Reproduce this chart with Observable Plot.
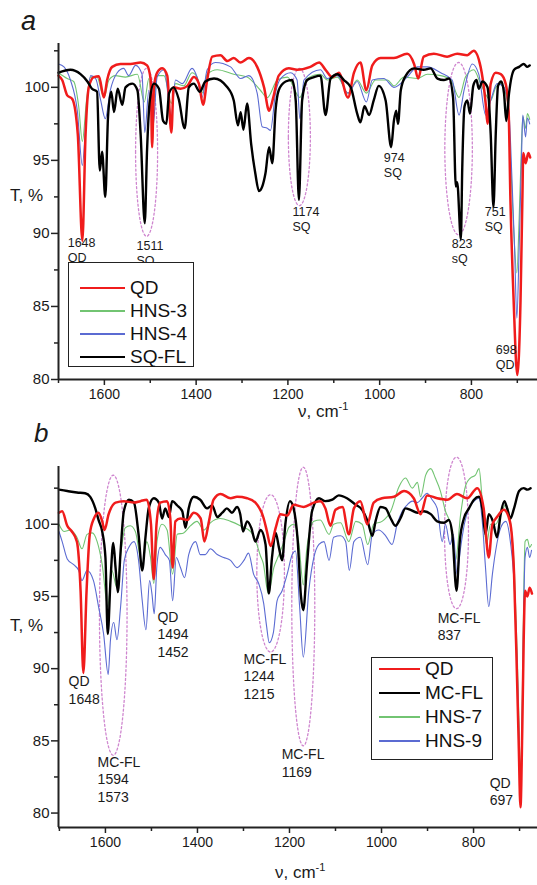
<!DOCTYPE html>
<html><head><meta charset="utf-8">
<script src="https://cdn.jsdelivr.net/npm/d3@7"></script>
<script src="https://cdn.jsdelivr.net/npm/@observablehq/plot@0.6"></script>
<style>
body{margin:0;background:#fff;font-family:"Liberation Sans",Arial,sans-serif;}
#wrap{position:relative;width:537px;height:885px;overflow:hidden;}
.abs{position:absolute;white-space:nowrap;color:#1a1a1a;}
.leg{position:absolute;border:1.5px solid #222;background:#fff;box-sizing:border-box;}
.row{position:absolute;display:flex;align-items:center;font-size:19px;color:#111;}
.sw{display:inline-block;margin-right:5px;}
.sup{position:relative;top:-7px;font-size:11px;}
</style></head>
<body><div id="wrap"></div>
<script>
// ---------- Panel a data: [wavenumber cm-1, T %] ----------
const aQD = [[1700,100.8],[1692,100.5],[1681,99.45],[1670,99.2],[1658,96.8],[1648,89.5],[1641,96.8],[1634,100],[1623,100.7],[1612,100.75],[1601,99.3],[1594,100.5],[1583,101.4],[1565,101.6],[1543,101.6],[1521,101.7],[1507,101.5],[1499,100.5],[1496,95.9],[1492,100],[1485,101],[1474,101.3],[1463,100.8],[1454,96.9],[1449,100],[1434,99.9],[1419,100.1],[1405,100.7],[1394,100.25],[1385,98.8],[1376,100.5],[1365,102.1],[1347,102.2],[1332,101.8],[1318,102],[1303,101.7],[1285,102],[1267,101.4],[1252,100],[1241,98.4],[1232,99.3],[1220,100.8],[1198,101.3],[1180,101.2],[1151,101.4],[1132,101.7],[1118,101.2],[1103,100.7],[1089,101],[1069,99.3],[1056,101],[1042,101.7],[1029,99.8],[1016,101.5],[998,102],[969,102],[940,102.3],[925,101.6],[916,100.6],[904,102.1],[882,102.3],[853,102.1],[831,102.3],[809,102.2],[795,102.5],[780,101.4],[769,98.9],[765,97.5],[758,100.25],[747,101],[736,100.9],[725,100.2],[719,98.4],[715,92.3],[708,85.4],[700,80.3],[693,85.4],[689,92.3],[687,95.5],[682,94.8],[676,95.5],[672,95.2]];
const aHNS3 = [[1700,101],[1681,100.6],[1667,100.4],[1656,98.7],[1648,96.3],[1639,99.1],[1630,100.7],[1616,100.7],[1601,99.3],[1590,100.5],[1576,100.8],[1554,100.7],[1528,100.9],[1513,99],[1503,100.6],[1495,98.5],[1485,100.8],[1470,100.8],[1454,98.9],[1445,100.25],[1427,100.1],[1409,101],[1398,100.7],[1387,99.6],[1376,100.9],[1354,101.2],[1318,100.9],[1289,100.7],[1260,99.8],[1245,99.3],[1223,100.5],[1201,100.7],[1174,99.3],[1158,100.6],[1129,100.9],[1114,100.5],[1092,100.7],[1069,99.6],[1049,100.5],[1029,99.6],[1009,100.5],[983,100.5],[969,100.1],[947,100.7],[918,100.6],[896,100.9],[867,100.8],[845,100.5],[827,99.3],[813,100.7],[795,101.2],[780,100.25],[758,99.1],[747,100],[736,100.25],[722,99.1],[716,96],[709,91],[701,87.3],[696,91],[691,96],[688,98],[682,97.2],[678,98.2],[673,97.8]];
const aHNS4 = [[1700,101.6],[1688,101.4],[1674,100.5],[1659,98.4],[1648,94.65],[1639,98.4],[1630,100.8],[1619,100.6],[1608,99.1],[1598,97.85],[1587,99.8],[1572,101],[1558,101.3],[1547,100.8],[1532,101.5],[1518,100.9],[1512,96.9],[1503,99.8],[1494,97.3],[1485,100.7],[1470,101.2],[1454,98.1],[1445,100.5],[1430,100.25],[1409,101.3],[1398,100.7],[1387,99.3],[1376,101.2],[1358,101.7],[1325,101.4],[1303,100.6],[1285,100.8],[1267,99.6],[1256,97.3],[1245,97.2],[1238,97.05],[1227,99.6],[1216,100.6],[1194,101],[1180,100.5],[1174,97.85],[1165,100.5],[1129,101.2],[1114,100.6],[1092,100.8],[1069,99.6],[1049,100.4],[1029,99],[1016,100.5],[991,100.6],[969,100],[940,100.7],[918,101.4],[896,101.4],[867,101],[842,100.5],[827,98.1],[816,99.8],[798,101.6],[784,100.9],[769,98.1],[758,99.1],[744,100.25],[729,100],[718,98.2],[712,94],[706,89],[701,84.2],[696,89],[691,95],[688,98.1],[682,96.6],[678,97.9],[673,97.5]];
const aSQFL = [[1700,101],[1674,101.2],[1652,100.9],[1637,100.4],[1627,99.9],[1616,99.7],[1610,94.3],[1605,95.6],[1598,92.5],[1592,98],[1585,99.7],[1579,98.3],[1571,99.9],[1561,98.8],[1554,100],[1539,100.25],[1528,99.8],[1521,96.8],[1512,90.7],[1507,95.7],[1501,99.1],[1492,100.25],[1481,99.9],[1472,97.7],[1465,97.5],[1459,99.6],[1449,100],[1438,99.2],[1425,97.2],[1416,100],[1405,100.25],[1392,99.7],[1380,100.4],[1361,100.6],[1332,100],[1318,99.1],[1309,97.4],[1303,98.3],[1297,97.1],[1289,98.9],[1280,96.1],[1271,94.1],[1263,92.9],[1256,93.2],[1249,94.1],[1241,95.9],[1234,94.8],[1227,98.4],[1220,99.8],[1205,100.4],[1191,100.5],[1183,99.1],[1176,92.3],[1169,99.1],[1158,100.5],[1143,100.7],[1129,100.8],[1118,98.1],[1107,100.6],[1092,100.9],[1078,100.5],[1063,100],[1049,98.2],[1042,97.6],[1033,98.7],[1023,98.1],[1013,99.1],[1002,100.1],[987,99.1],[975,95.9],[969,97.7],[964,98.4],[960,97.5],[954,99.8],[943,100.8],[925,101.3],[904,101.2],[889,101.3],[874,100.6],[860,100.5],[849,100.6],[840,99.3],[834,93.2],[831,93.5],[823,89.6],[820,94.5],[815,98.7],[809,99.1],[803,98.2],[796,100.1],[789,100.5],[784,99.9],[776,100.4],[765,100],[758,96.8],[752,91.8],[747,96.8],[742,100.1],[735,100.4],[729,99.6],[724,97.7],[718,99.6],[707,101.2],[696,101.4],[686,101.6],[678,101.4],[673,101.5]];

// ---------- Panel b data ----------
const bQD = [[1701,100.8],[1694,100.9],[1683,99.9],[1673,99.5],[1662,98.8],[1654,95.4],[1648,89.7],[1641,95.4],[1634,99.3],[1625,100.4],[1615,100.8],[1607,100.2],[1602,99.6],[1593,100.7],[1578,101.5],[1560,101.6],[1538,101.5],[1524,101.6],[1510,101.7],[1501,100],[1495,96.2],[1489,100],[1481,101.5],[1466,101.6],[1459,100.4],[1454,97],[1448,100.2],[1437,100.4],[1422,100.3],[1408,100.8],[1393,100.4],[1385,98.8],[1375,100.2],[1365,101.7],[1350,102.1],[1328,101.8],[1314,101.9],[1292,101.8],[1274,101.5],[1256,100.4],[1249,99.5],[1241,98.5],[1230,99.75],[1220,100.7],[1205,100.6],[1191,101.35],[1169,101.2],[1147,101.5],[1133,101.6],[1122,101.1],[1111,99.9],[1100,101],[1085,101.2],[1071,99.3],[1060,101.1],[1046,101.6],[1031,100],[1017,101.5],[999,101.8],[973,101.9],[951,102.3],[930,101.8],[915,100.7],[901,102],[879,101.8],[857,101.7],[836,102.1],[814,101.8],[792,102.5],[778,101.1],[767,97.7],[759,100],[749,100.5],[734,101],[721,100.2],[712,96.6],[706,90],[702,85],[698,80.4],[694,86],[691,92],[688,95.4],[683,95],[678,95.6],[673,95.2]];
const bMCFL = [[1701,102.4],[1683,102.3],[1662,102.2],[1644,102.15],[1633,101.9],[1622,101.1],[1615,100.3],[1607,99.5],[1600,97.7],[1595,92.4],[1589,96.1],[1583,98.7],[1578,97],[1573,95.3],[1567,98.15],[1560,100.9],[1549,101.7],[1538,101.5],[1528,99.3],[1520,96.8],[1513,99.1],[1506,101.1],[1495,101.8],[1484,101.5],[1477,100.4],[1470,101.1],[1462,100.5],[1455,101.6],[1444,101.3],[1433,100.9],[1426,99.75],[1419,101.1],[1408,101.9],[1394,101.7],[1379,101.1],[1368,101.3],[1357,100.5],[1346,100.8],[1336,101.1],[1325,100.8],[1314,101.2],[1307,100.7],[1301,99.5],[1292,100.2],[1283,99.75],[1274,98.8],[1263,99.6],[1252,98.6],[1245,95.2],[1238,97.7],[1230,99.4],[1223,98.4],[1216,97.5],[1209,100],[1199,101.6],[1191,101.1],[1182,98.8],[1175,95],[1170,94.05],[1162,97.2],[1151,100.9],[1136,101.8],[1122,101.6],[1107,101.7],[1093,102],[1075,101.8],[1056,101.35],[1042,101],[1030,100.2],[1020,99.2],[1013,100.2],[1002,101.2],[991,101.1],[980,100.4],[970,99.9],[959,100.4],[948,101.1],[937,101],[922,100.8],[908,100.9],[893,100.7],[879,100.2],[864,100.1],[854,100.3],[846,99.3],[837,95.4],[830,98.8],[821,100.4],[810,101.1],[799,101.7],[788,101.9],[781,101.1],[774,99.3],[767,100.7],[758,100.2],[749,99.1],[741,100.7],[733,101.6],[727,101.1],[720,100.4],[712,101.1],[701,102.3],[691,102.5],[683,102.4],[676,102.5]];
const bHNS7 = [[1701,100],[1690,99.5],[1676,99.6],[1662,99.1],[1651,98.3],[1640,99.3],[1629,99.4],[1618,98.8],[1607,97.2],[1595,94.3],[1586,96.8],[1575,95.6],[1566,98.15],[1557,99.75],[1546,99.9],[1535,99.5],[1520,97.2],[1510,98.8],[1502,97.7],[1495,95.9],[1488,98.8],[1477,100],[1466,99.6],[1454,96.55],[1444,99.3],[1430,99.4],[1415,99.9],[1401,100.2],[1386,99.6],[1372,100.1],[1350,100.4],[1328,100.2],[1307,99.9],[1285,99.5],[1275,99],[1263,97.8],[1257,97.3],[1246,95.2],[1234,97],[1224,97.8],[1212,98.8],[1201,99.8],[1191,100],[1180,98.8],[1170,95.8],[1162,98.4],[1147,100.2],[1133,100.3],[1114,99.3],[1104,100],[1089,100.1],[1071,98.8],[1056,100.2],[1042,100],[1030,98.6],[1017,100],[999,100.2],[980,100.9],[962,102.6],[948,103.2],[933,102.5],[922,102.9],[915,101.9],[904,103.4],[893,103.85],[883,103.2],[872,102.3],[861,100.9],[850,100],[839,97.5],[828,100.7],[817,102.7],[807,103.2],[796,103.4],[788,103.85],[781,101.6],[772,98.6],[763,100],[752,100],[741,100.7],[730,101.35],[720,100.2],[711,96.55],[705,91],[701,86],[698,82],[694,88],[691,95],[688,98.8],[683,98.95],[678,98.4],[674,98.6]];
const bHNS9 = [[1701,99.5],[1694,98.8],[1683,97.6],[1669,97.2],[1658,96.8],[1651,96.1],[1640,96.8],[1626,96.1],[1615,94.3],[1604,92.4],[1594,89.6],[1589,92],[1582,93.2],[1575,92],[1567,94.3],[1559,97.5],[1549,98.4],[1538,98.8],[1528,97.5],[1520,94.7],[1512,92.7],[1504,96.1],[1499,95.2],[1494,93.8],[1488,97.2],[1481,98.4],[1470,97.9],[1461,97.5],[1454,94.7],[1446,97.7],[1437,97],[1428,96.3],[1419,97.9],[1404,98.8],[1394,97.9],[1383,97.9],[1372,98.3],[1357,97.9],[1343,97.7],[1328,97.5],[1314,97],[1299,97.5],[1289,98],[1278,96.55],[1267,95.9],[1256,94.5],[1250,93],[1244,91.8],[1235,92.5],[1227,94.7],[1216,95.4],[1205,96.55],[1194,97.9],[1187,98.15],[1178,94.3],[1170,90.8],[1158,95.4],[1147,97.7],[1136,98.6],[1125,98.8],[1114,97.5],[1104,99.1],[1089,99.2],[1078,98.8],[1070,96.8],[1060,98.8],[1046,99.1],[1030,97.2],[1020,99.3],[1006,99.6],[991,99.2],[977,98.6],[966,100],[955,100.9],[944,101.35],[933,101.6],[922,101.5],[912,101.8],[901,102.15],[890,101.7],[879,101.1],[868,98.8],[861,100],[851,98.6],[844,99.3],[836,96.55],[828,98.4],[820,100],[810,101.1],[799,101.6],[788,101.8],[781,100.2],[774,97],[767,94.3],[759,96.55],[752,98.15],[741,99.75],[730,100.2],[720,98.8],[711,95.4],[705,90],[701,85],[698,81.5],[694,87],[691,94],[688,97.7],[683,98.4],[678,97.7],[674,98.2]];

// ---------- annotations ----------
const aLabels = [
  {x:1680, y:89.8, t:"1648\nQD"}, {x:1530, y:89.6, t:"1511\nSQ"}, {x:1190, y:91.9, t:"1174\nSQ"},
  {x:991, y:95.6, t:"974\nSQ"}, {x:843, y:89.7, t:"823\nsQ"}, {x:771, y:91.9, t:"751\nSQ"}, {x:747, y:82.5, t:"698\nQD"}
];
const bLabels = [
  {x:1680, y:89.65, t:"QD\n1648"}, {x:1487, y:94.1, t:"QD\n1494\n1452"}, {x:1617, y:84.05, t:"MC-FL\n1594\n1573"},
  {x:1300, y:91.2, t:"MC-FL\n1244\n1215"}, {x:1217, y:84.6, t:"MC-FL\n1169"}, {x:878, y:94.05, t:"MC-FL\n837"}, {x:765, y:82.6, t:"QD\n697"}
];
const aEllipses = [{cx:1508, cy:95.55, rx:24, ry:5.75},{cx:1175, cy:96.6, rx:24, ry:4.7},{cx:828, cy:95.8, rx:30, ry:5.9}];
const bEllipses = [{cx:1583, cy:93.7, rx:30, ry:9.7},{cx:1241, cy:96.6, rx:30, ry:5.45},{cx:1170, cy:94.3, rx:25, ry:9.65},{cx:837, cy:99.4, rx:26, ry:5.25}];

const yMajor = [80, 85, 90, 95, 100];
const yMinor = [82.5, 87.5, 92.5, 97.5, 102.5];
const xMajor = [1600, 1400, 1200, 1000, 800];
const xMinor = [1700, 1500, 1300, 1100, 900, 700];

const C = {red:"#f01c1c", black:"#000", green:"#72c472", blue:"#5b6bd2", ell:"#cf86cf"};

function ellipsePts(list){
  const pts = [];
  list.forEach((e,i)=>{ for(let k=0;k<=72;k++){ const a=k/72*2*Math.PI; pts.push({id:i, x:e.cx+e.rx*Math.cos(a), y:e.cy+e.ry*Math.sin(a)}); } });
  return pts;
}

function panel({series, labels, ellipses, xdom, ydom, height, mt, mb, fs, lh}){
  const lines = series.map(s => Plot.line(s.data, {x:d=>d[0], y:d=>d[1], stroke:s.color, strokeWidth:s.w, curve:"monotone-x"}));
  return Plot.plot({
    width:537, height, marginTop:mt, marginBottom:mb, marginLeft:58, marginRight:0,
    x:{domain:xdom, label:null}, y:{domain:ydom, label:null},
    style:{fontFamily:'"Liberation Sans", Arial, sans-serif', color:"#1a1a1a", background:"transparent", overflow:"visible"},
    marks:[
      Plot.line(ellipsePts(ellipses), {x:"x", y:"y", z:"id", stroke:C.ell, strokeWidth:1.3, strokeDasharray:"2,2.4"}),
      ...lines,
      Plot.text(labels, {x:"x", y:"y", text:"t", textAnchor:"start", lineAnchor:"top", fontSize:fs, lineHeight:lh, fill:"#1a1a1a"}),
      Plot.ruleX([xdom[0]], {stroke:"#222", strokeWidth:2}),
      Plot.ruleY([ydom[0]], {stroke:"#222", strokeWidth:2}),
      Plot.axisY(yMajor, {tickSize:7, tickPadding:2, fontSize:15, tickFormat:d=>String(d), label:null, stroke:"#222", strokeWidth:1.5}),
      Plot.axisY(yMinor.filter(v=>v<ydom[1]), {tickSize:4, tickFormat:()=>"", label:null, stroke:"#222", strokeWidth:1.5}),
      Plot.axisX(xMajor, {tickSize:6, tickPadding:4, fontSize:14, tickFormat:d=>String(d), label:null, stroke:"#222", strokeWidth:1.5}),
      Plot.axisX(xMinor.filter(v=>v<=xdom[0] && v>=xdom[1]), {tickSize:4, tickFormat:()=>"", label:null, stroke:"#222", strokeWidth:1.5})
    ]
  });
}

const wrap = document.getElementById("wrap");
function place(el, top){ el.style.position="absolute"; el.style.left="0px"; el.style.top=top+"px"; wrap.appendChild(el); }

const pa = panel({
  series:[{data:aHNS3,color:C.green,w:1.1},{data:aHNS4,color:C.blue,w:1.1},{data:aQD,color:C.red,w:2.5},{data:aSQFL,color:C.black,w:2.4}],
  labels:aLabels, ellipses:aEllipses, xdom:[1700,656], ydom:[80,103], height:430, mt:43, mb:51, fs:12.5, lh:1.2
});
place(pa, 0);
const pb = panel({
  series:[{data:bHNS7,color:C.green,w:1.1},{data:bHNS9,color:C.blue,w:1.1},{data:bMCFL,color:C.black,w:2.4},{data:bQD,color:C.red,w:2.5}],
  labels:bLabels, ellipses:bEllipses, xdom:[1702,661], ydom:[79,104], height:455, mt:36, mb:58, fs:14, lh:1.25
});
place(pb, 430);

function txt(html, left, top, css){ const d=document.createElement("div"); d.className="abs"; d.innerHTML=html; d.style.left=left+"px"; d.style.top=top+"px"; Object.assign(d.style, css||{}); wrap.appendChild(d); return d; }
txt("a", 21, 6, {fontSize:"27px", fontStyle:"italic"});
txt("b", 34, 418, {fontSize:"26px", fontStyle:"italic"});
txt("T, %", 10, 186, {fontSize:"17px"});
txt("T, %", 10, 616, {fontSize:"17px"});
txt("ν, cm<span class='sup'>-1</span>", 298, 403, {fontSize:"17px", lineHeight:"17px"});
txt("ν, cm<span class='sup'>-1</span>", 275, 864, {fontSize:"17px", lineHeight:"17px"});

// legends
const legA = ["QD","HNS-3","HNS-4","SQ-FL"], legAcol=[C.red,C.green,C.blue,C.black], legAw=[2.5,1.2,1.2,2.5];
const legB = ["QD","MC-FL","HNS-7","HNS-9"], legBcol=[C.red,C.black,C.green,C.blue], legBw=[2.5,2.5,1.2,1.2];
function legend(names, cols, ws, box, rows, lineX, lineW){
  const b=document.createElement("div"); b.className="leg";
  Object.assign(b.style,{left:box[0]+"px", top:box[1]+"px", width:box[2]+"px", height:box[3]+"px"});
  wrap.appendChild(b);
  names.forEach((n,i)=>{
    const r=document.createElement("div"); r.className="row";
    r.style.left=(lineX-box[0])+"px"; r.style.top=(rows[i]-box[1]-12)+"px"; r.style.height="24px";
    r.innerHTML=`<span class="sw" style="width:${lineW}px;height:${ws[i]}px;background:${cols[i]}"></span><span>${n}</span>`;
    b.appendChild(r);
  });
}
legend(legA, legAcol, legAw, [68,262,126,105], [287,310,333,356], 79, 45);
legend(legB, legBcol, legBw, [371,657,122,103], [668,692,716,740], 378, 41);
</script></body></html>
